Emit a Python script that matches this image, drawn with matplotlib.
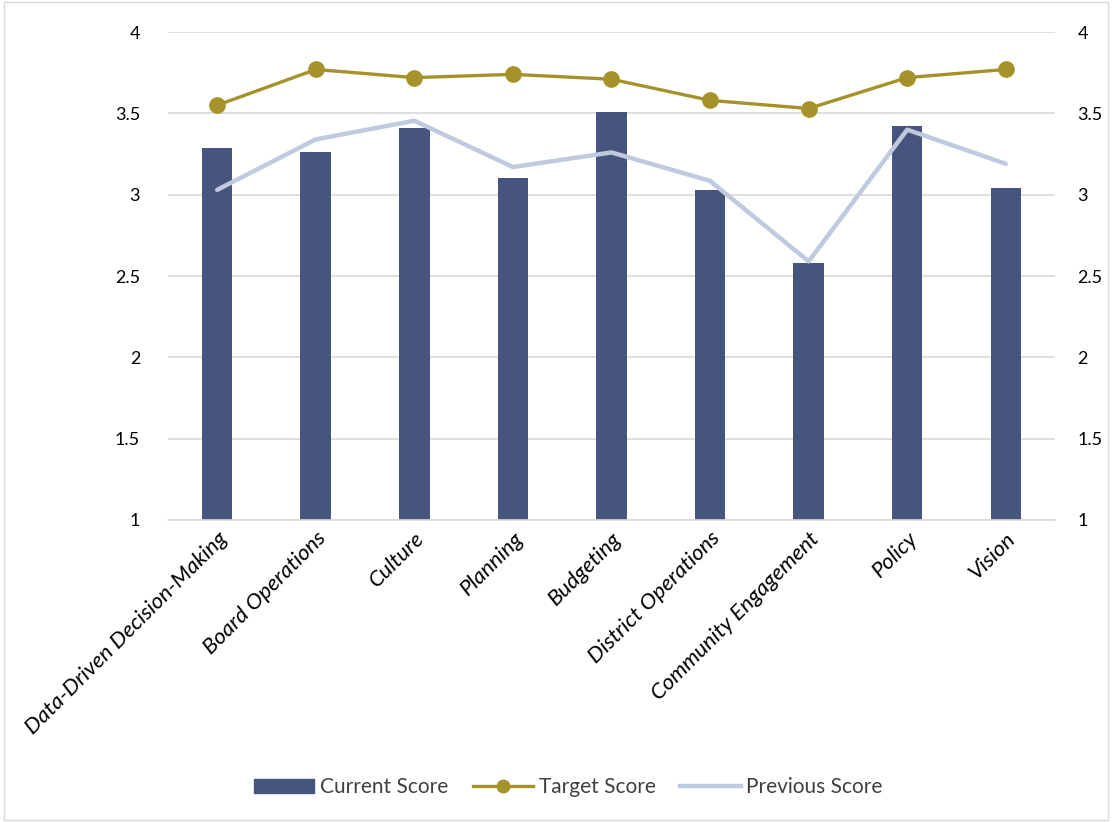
import matplotlib
matplotlib.use("Agg")
import matplotlib.pyplot as plt
from matplotlib.patches import Rectangle
from matplotlib.lines import Line2D

plt.rcParams['font.family'] = ['Lato', 'DejaVu Sans']

categories = ["Data-Driven Decision-Making", "Board Operations", "Culture", "Planning",
              "Budgeting", "District Operations", "Community Engagement", "Policy", "Vision"]
current_score = [3.29, 3.26, 3.41, 3.10, 3.51, 3.03, 2.58, 3.42, 3.04]
target_score = [3.55, 3.77, 3.72, 3.74, 3.71, 3.58, 3.53, 3.72, 3.77]
previous_score = [3.03, 3.34, 3.455, 3.17, 3.26, 3.085, 2.59, 3.40, 3.19]
y_ticks = [1, 1.5, 2, 2.5, 3, 3.5, 4]
y_tick_labels = ["1", "1.5", "2", "2.5", "3", "3.5", "4"]

bar_color = "#46557E"
target_color = "#A6922A"
prev_color = "#C0CADF"
grid_color = "#D9D9D9"

fig = plt.figure(figsize=(11.12, 8.22), dpi=100)
fig.patches.append(Rectangle((0.004, 0.002), 0.992, 0.996, transform=fig.transFigure,
                             fill=False, edgecolor="#D9D9D9", linewidth=1.0))
ax = fig.add_axes([0.151, 0.3674, 0.7978, 0.5936])
x = list(range(len(categories)))

ax.bar(x, current_score, width=0.31, bottom=0, color=bar_color, zorder=2)
ax.plot(x, target_score, color=target_color, lw=2.4, marker='o', markersize=11, zorder=4)
ax.plot(x, previous_score, color=prev_color, lw=3.2, zorder=3, solid_capstyle='round')

ax.set_xlim(-0.5, len(categories) - 0.5)
ax.set_ylim(1, 4)
ax.set_yticks(y_ticks)
ax.set_yticklabels(y_tick_labels)
ax.yaxis.grid(True, color=grid_color, lw=1.2, zorder=0)
ax.set_axisbelow(True)
for s in ["top", "right", "left"]:
    ax.spines[s].set_visible(False)
ax.spines["bottom"].set_color(grid_color)
ax.spines["bottom"].set_linewidth(1.2)
ax.tick_params(axis='both', length=0, labelsize=13, colors="#000000")
ax.tick_params(axis='y', pad=20)
ax.set_xticks(x)
ax.set_xticklabels(categories, rotation=45, ha='right', rotation_mode='anchor',
                   fontstyle='italic', fontsize=16)
ax.tick_params(axis='x', pad=6)

ax2 = ax.twinx()
ax2.set_ylim(1, 4)
ax2.set_yticks(y_ticks)
ax2.set_yticklabels(y_tick_labels)
for s in ax2.spines.values():
    s.set_visible(False)
ax2.tick_params(axis='y', length=0, labelsize=13, pad=16, colors="#000000")

handles = [Rectangle((0, 0), 1, 1, color=bar_color),
           Line2D([], [], color=target_color, lw=2.4, marker='o', markersize=9),
           Line2D([], [], color=prev_color, lw=3.2)]
fig.legend(handles, ["Current Score", "Target Score", "Previous Score"],
           loc='center', bbox_to_anchor=(0.511, 0.042), ncol=3, frameon=False,
           fontsize=15, labelcolor="#404040", handlelength=2.9, columnspacing=1.2,
           handletextpad=0.25)

fig.savefig("out.png", dpi=100)
